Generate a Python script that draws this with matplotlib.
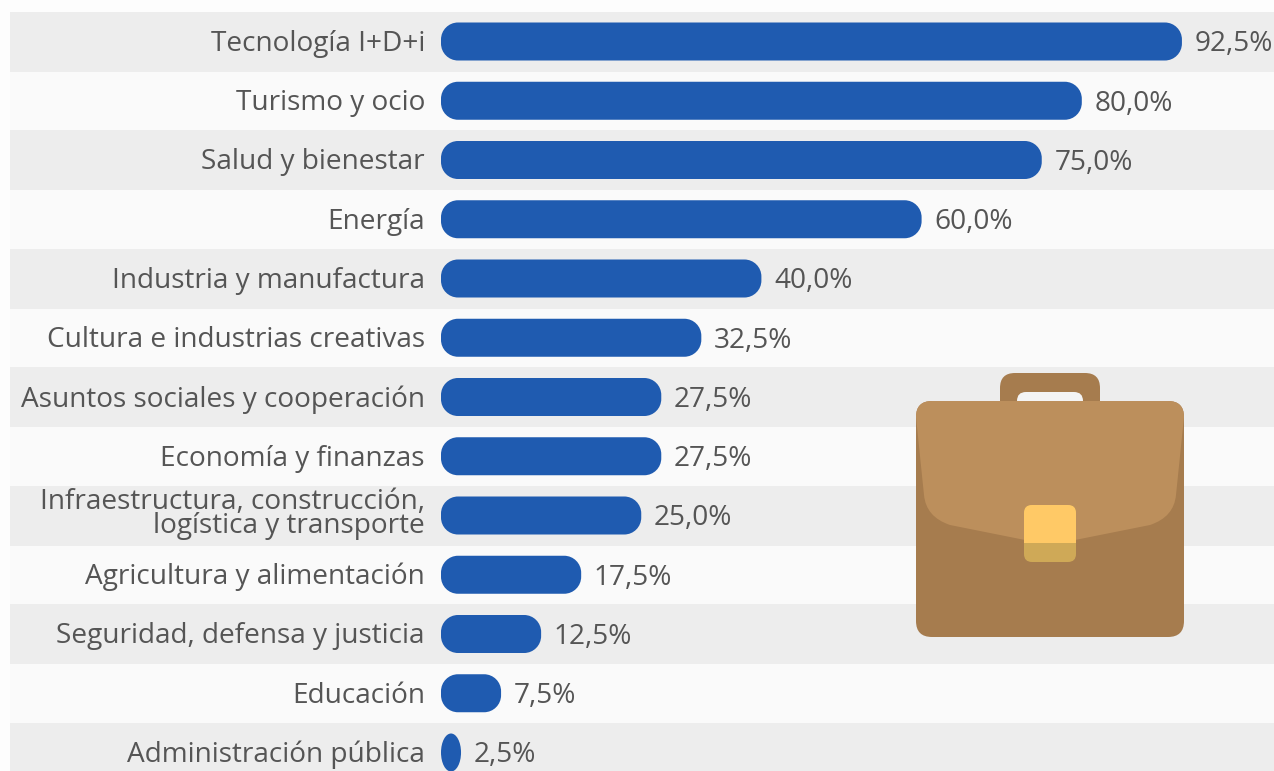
import matplotlib
matplotlib.use("Agg")
import matplotlib.pyplot as plt
from matplotlib.patches import FancyBboxPatch, Rectangle, PathPatch
from matplotlib.path import Path

plt.rcParams['font.family'] = ['Open Sans', 'DejaVu Sans']

categories = ["Tecnología I+D+i", "Turismo y ocio", "Salud y bienestar", "Energía",
              "Industria y manufactura", "Cultura e industrias creativas",
              "Asuntos sociales y cooperación", "Economía y finanzas",
              "Infraestructura, construcción,\nlogística y transporte",
              "Agricultura y alimentación", "Seguridad, defensa y justicia",
              "Educación", "Administración pública"]
values = [92.5, 80.0, 75.0, 60.0, 40.0, 32.5, 27.5, 27.5, 25.0, 17.5, 12.5, 7.5, 2.5]
value_labels = ["92,5%", "80,0%", "75,0%", "60,0%", "40,0%", "32,5%", "27,5%", "27,5%",
                "25,0%", "17,5%", "12,5%", "7,5%", "2,5%"]

W, H = 1274, 771
X0, PX_PER_UNIT = 441, 8.01
Y0, ROW = 41.5, 59.25
BLUE, TEXT = "#1F5BB0", "#555555"
BAND, BG = "#EDEDED", "#FAFAFA"
FS = 20.15
K = 0.5523


def pill(x0, x1, y0, y1, rx, ry):
    """Rounded rectangle with true elliptical corners."""
    cx, cy = rx * (1 - K), ry * (1 - K)
    verts = [(x0 + rx, y0), (x1 - rx, y0),
             (x1 - cx, y0), (x1, y0 + cy), (x1, y0 + ry),
             (x1, y1 - ry),
             (x1, y1 - cy), (x1 - cx, y1), (x1 - rx, y1),
             (x0 + rx, y1),
             (x0 + cx, y1), (x0, y1 - cy), (x0, y1 - ry),
             (x0, y0 + ry),
             (x0, y0 + cy), (x0 + cx, y0), (x0 + rx, y0), (x0 + rx, y0)]
    C4 = Path.CURVE4
    codes = [Path.MOVETO, Path.LINETO, C4, C4, C4, Path.LINETO, C4, C4, C4,
             Path.LINETO, C4, C4, C4, Path.LINETO, C4, C4, C4, Path.CLOSEPOLY]
    return Path(verts, codes)


fig = plt.figure(figsize=(W / 100, H / 100), dpi=100, facecolor="#FDFDFD")
ax = fig.add_axes([0, 0, 1, 1])
ax.set_xlim(-X0 / PX_PER_UNIT, (W - X0) / PX_PER_UNIT)
ax.set_ylim((H - Y0) / ROW, -Y0 / ROW)
ax.axis("off")

xmin = (10 - X0) / PX_PER_UNIT
xmax = ax.get_xlim()[1]
ax.add_patch(Rectangle((xmin, -0.5), xmax - xmin, len(values), fc=BG, ec="none", zorder=0))
for i in range(0, len(values), 2):
    ax.add_patch(Rectangle((xmin, i - 0.5), xmax - xmin, 1.01, fc=BAND, ec="none", zorder=1))

bar_h = 38 / ROW
for i, (cat, v, lab) in enumerate(zip(categories, values, value_labels)):
    rx = min(17, v * PX_PER_UNIT / 2) / PX_PER_UNIT
    ry = 17 / ROW if v * PX_PER_UNIT > 34 else bar_h / 2
    ax.add_patch(PathPatch(pill(0, v, i - bar_h / 2, i + bar_h / 2, rx, ry),
                           fc=BLUE, ec="none", zorder=3))
    two_lines = "\n" in cat
    ax.text(-16 / PX_PER_UNIT, i + (-0.02 if two_lines else 0.04), cat, ha="right", va="center",
            fontsize=FS, color=TEXT, linespacing=0.8 if two_lines else 1.0, zorder=4)
    ax.text(v + 12.5 / PX_PER_UNIT, i + 0.05, lab, ha="left", va="center",
            fontsize=FS, color=TEXT, zorder=4)

# Briefcase icon, drawn in pixel coordinates of the picture
ic = fig.add_axes([0, 0, 1, 1], facecolor="none")
ic.set_xlim(0, W)
ic.set_ylim(H, 0)
ic.axis("off")
DARK, LIGHT = "#A67C4E", "#BC8F5C"


def rbox(x0, y0, x1, y1, r, **kw):
    p = FancyBboxPatch((x0, y0), x1 - x0, y1 - y0,
                       boxstyle=f"round,pad=0,rounding_size={r}", ec="none", **kw)
    ic.add_patch(p)
    return p


rbox(1000, 373, 1100, 420, 15, fc=DARK, zorder=5)
rbox(1017, 392, 1083, 420, 9, fc="#F4F4F4", zorder=6)
rbox(916, 401, 1184, 637, 16, fc=DARK, zorder=7)
flap = Path([(916, 417), (916, 401), (932, 401), (1168, 401), (1184, 401), (1184, 417),
             (1176, 495), (1174, 517), (1150, 525), (1050, 545), (950, 525), (926, 517),
             (924, 495), (916, 417)],
            [Path.MOVETO, Path.CURVE3, Path.CURVE3, Path.LINETO, Path.CURVE3, Path.CURVE3,
             Path.LINETO, Path.CURVE3, Path.CURVE3, Path.LINETO, Path.LINETO, Path.CURVE3,
             Path.CURVE3, Path.CLOSEPOLY])
ic.add_patch(PathPatch(flap, fc=LIGHT, ec="none", zorder=8))
rbox(1024, 505, 1076, 562, 8, fc="#CFA957", zorder=9)
top = rbox(1024, 505, 1076, 562, 8, fc="#FFC966", zorder=10)
top.set_clip_path(Rectangle((1020, 500), 60, 43, transform=ic.transData))

fig.savefig("out.png", dpi=100, facecolor=fig.get_facecolor())
